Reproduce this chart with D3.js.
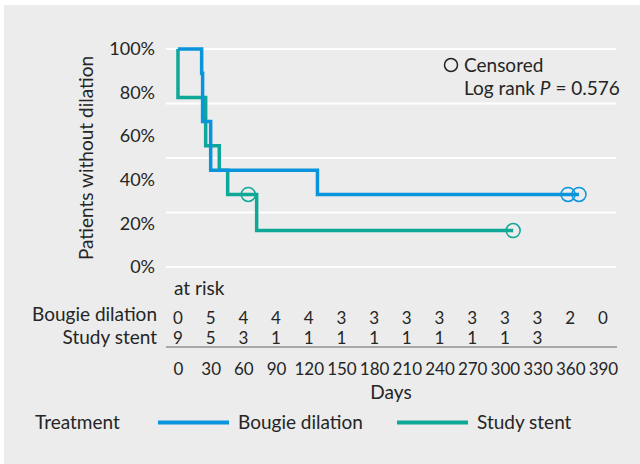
<!DOCTYPE html>
<html>
<head>
<meta charset="utf-8">
<script src="https://cdn.jsdelivr.net/npm/d3@7"></script>
<style>
  body { margin: 0; background: #fff; }
  text { font-family: Lato, "Open Sans", sans-serif; fill: #252525; }
</style>
</head>
<body>
<svg id="chart"></svg>
<script>
// values
const dayTicks = [0, 30, 60, 90, 120, 150, 180, 210, 240, 270, 300, 330, 360, 390];
const pctTicks = [0, 20, 40, 60, 80, 100];
const gridTicks = [0, 25, 50, 75, 100];

const bougieSteps = [
  {day: 0, surv: 100}, {day: 21.7, surv: 88.9}, {day: 22.6, surv: 66.7},
  {day: 30, surv: 44.4}, {day: 128, surv: 33.3}, {day: 368, surv: 33.3}
];
const stentSteps = [
  {day: 0, surv: 100}, {day: 0, surv: 77.8}, {day: 25.4, surv: 55.6},
  {day: 37.9, surv: 44.4}, {day: 45.6, surv: 33.3}, {day: 72.2, surv: 16.7},
  {day: 307.6, surv: 16.7}
];
const bougieCensored = [{day: 358, surv: 33.3}, {day: 368, surv: 33.3}];
const stentCensored = [{day: 64.5, surv: 33.3}, {day: 307.6, surv: 16.7}];

const bougieAtRisk = [0, 5, 4, 4, 4, 3, 3, 3, 3, 3, 3, 3, 2, 0];
const stentAtRisk = [9, 5, 3, 1, 1, 1, 1, 1, 1, 1, 1, 3];

const groups = ["Bougie dilation", "Study stent"];
const colors = ["#0a94dc", "#0fa898"];

const width = 640, height = 464;
const fs = 19;     // words
const fn = 17;     // numbers

const svg = d3.select("#chart")
    .attr("width", width)
    .attr("height", height);

svg.append("rect")
    .attr("x", 4).attr("y", 5)
    .attr("width", width - 4).attr("height", height - 5)
    .attr("fill", "#ebeceb");

const xscale = d3.scaleLinear().domain([-11, 402]).range([166, 616]);
const yscale = d3.scaleLinear().domain([0, 100]).range([267, 49]);

// grid
svg.append("g").selectAll("line")
  .data(gridTicks)
  .join("line")
    .attr("x1", xscale.range()[0]).attr("x2", xscale.range()[1])
    .attr("y1", d => yscale(d)).attr("y2", d => yscale(d))
    .attr("stroke", "#fff").attr("stroke-width", 2);

// y axis, labels only
const yaxis = d3.axisLeft(yscale)
    .tickValues(pctTicks)
    .tickFormat(d => d + "%")
    .tickSize(0)
    .tickPadding(0);
const yaxis_group = svg.append("g")
    .attr("transform", "translate(155,0)")
    .call(yaxis);
yaxis_group.select(".domain").remove();
yaxis_group.selectAll("text")
    .attr("font-size", 18)
    .attr("font-family", null)
    .attr("fill", null);

svg.append("text")
    .attr("transform", "translate(93,158) rotate(-90)")
    .attr("text-anchor", "middle")
    .attr("font-size", fs)
    .text("Patients without dilation");

// curves
const line = d3.line()
    .x(d => xscale(d.day))
    .y(d => yscale(d.surv))
    .curve(d3.curveStepAfter);

[stentSteps, bougieSteps].forEach((s, i) => {
  svg.append("path")
      .attr("d", line(s))
      .attr("fill", "none")
      .attr("stroke", colors[1 - i])
      .attr("stroke-width", 3.5);
});

[bougieCensored, stentCensored].forEach((c, i) => {
  svg.append("g").selectAll("circle")
    .data(c)
    .join("circle")
      .attr("cx", d => xscale(d.day))
      .attr("cy", d => yscale(d.surv))
      .attr("r", 7)
      .attr("fill", "none")
      .attr("stroke", colors[i])
      .attr("stroke-width", 1.5);
});

// censored legend
svg.append("circle")
    .attr("cx", 451).attr("cy", 65).attr("r", 6.5)
    .attr("fill", "none").attr("stroke", "#222").attr("stroke-width", 1.5);
svg.append("text").attr("x", 464).attr("y", 71.5)
    .attr("font-size", fs).text("Censored");
const lr = svg.append("text").attr("x", 464).attr("y", 95)
    .attr("font-size", fs);
lr.append("tspan").text("Log rank ");
lr.append("tspan").attr("font-style", "italic").text("P");
lr.append("tspan").text(" = 0.576");

// at risk table
svg.append("text").attr("x", 174).attr("y", 295)
    .attr("font-size", fs).text("at risk");

svg.append("text").attr("x", 157).attr("y", 321)
    .attr("text-anchor", "end").attr("font-size", fs).text(groups[0]);
svg.append("text").attr("x", 157).attr("y", 344)
    .attr("text-anchor", "end").attr("font-size", fs).text(groups[1]);

svg.append("g").selectAll("text")
  .data(bougieAtRisk)
  .join("text")
    .attr("x", (d, i) => xscale(dayTicks[i]))
    .attr("y", 323.5)
    .attr("text-anchor", "middle")
    .attr("font-size", fn)
    .text(d => d);

svg.append("g").selectAll("text")
  .data(stentAtRisk)
  .join("text")
    .attr("x", (d, i) => xscale(dayTicks[i]))
    .attr("y", 343.5)
    .attr("text-anchor", "middle")
    .attr("font-size", fn)
    .text(d => d);

// x axis below the table
const xaxis = d3.axisBottom(xscale)
    .tickValues(dayTicks)
    .tickSize(0)
    .tickPadding(0);
const xaxis_group = svg.append("g")
    .attr("transform", "translate(0,347)")
    .call(xaxis);
xaxis_group.select(".domain")
    .attr("stroke", "#a8a8a8")
    .attr("stroke-width", 2)
    .attr("d", `M${xscale.range()[0]},0H${xscale.range()[1] + 1}`);
xaxis_group.selectAll("text")
    .attr("font-size", fn)
    .attr("font-family", null)
    .attr("fill", null)
    .attr("dy", null)
    .attr("y", 28);

svg.append("text").attr("x", 391).attr("y", 399)
    .attr("text-anchor", "middle").attr("font-size", fs).text("Days");

// treatment legend
svg.append("text").attr("x", 35).attr("y", 429)
    .attr("font-size", fs).text("Treatment");
const legendX = [158, 397];
groups.forEach((g, i) => {
  svg.append("line")
      .attr("x1", legendX[i]).attr("x2", legendX[i] + 71)
      .attr("y1", 422.5).attr("y2", 422.5)
      .attr("stroke", colors[i]).attr("stroke-width", 4);
  svg.append("text")
      .attr("x", legendX[i] + 80).attr("y", 429)
      .attr("font-size", fs).text(g);
});
</script>
</body>
</html>
